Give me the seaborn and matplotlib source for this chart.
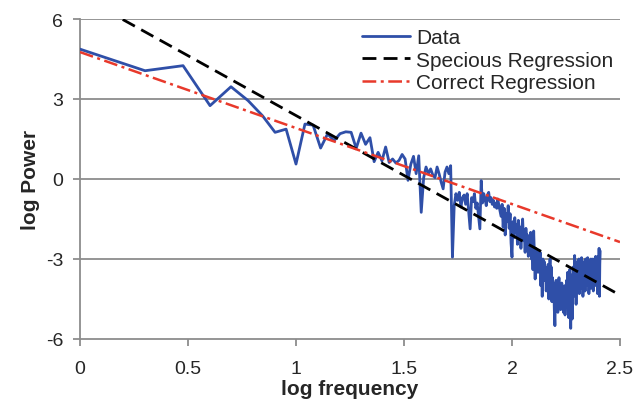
import numpy as np
import pandas as pd
import matplotlib
matplotlib.use("Agg")
import matplotlib.pyplot as plt
import seaborn as sns

# ---- data ----
harmonics = np.arange(1, 257)
log_power = [
    4.87, 4.06, 4.25, 2.75, 3.46, 2.94, 2.37, 1.75, 1.87, 0.56,
    2.06, 2.02, 1.16, 1.69, 1.44, 1.70, 1.77, 1.75, 1.15, 1.72,
    1.30, 1.55, 0.65, 1.00, 0.68, 1.20, 0.62, 0.75, 0.60, 0.70,
    0.92, 0.75, -0.05, 0.55, 0.85, 0.20, 0.87, -1.25, 0.05, 0.45,
    0.20, 0.38, 0.15, 0.05, 0.45, 0.19, -0.12, -0.37, 0.26, 0.45,
    0.20, 0.50, -2.93, -1.00, -0.55, -0.80, -0.50, -1.05, -0.70, -0.60,
    -0.95, -0.55, -1.20, -1.87, -0.70, -0.85, -0.55, -1.10, -0.90, -1.40,
    -1.87, -0.06, -0.90, -0.55, -0.75, -1.00, -0.60, -0.50, -0.85, -0.70,
    -0.95, -0.80, -1.05, -0.90, -1.10, -0.75, -1.00, -1.20, -1.40, -0.95,
    -1.80, -1.10, -2.10, -1.30, -1.60, -1.00, -1.85, -1.30, -2.40, -2.93,
    -1.60, -2.20, -1.45, -2.00, -1.70, -2.45, -1.55, -2.10, -1.80, -2.60,
    -1.90, -1.50, -2.30, -2.00, -2.75, -1.85, -2.40, -2.10, -2.90, -2.20,
    -2.60, -2.00, -3.00, -2.40, -3.40, -1.95, -2.80, -3.75, -2.60, -3.10,
    -2.70, -3.50, -2.90, -3.30, -2.75, -4.00, -3.20, -4.40, -3.00, -3.60,
    -3.10, -3.80, -3.30, -4.20, -3.50, -3.90, -3.20, -4.50, -3.60, -3.00,
    -4.10, -3.30, -4.60, -3.70, -4.30, -3.90, -4.90, -5.50, -4.20, -3.80,
    -4.60, -4.00, -5.00, -4.30, -3.70, -4.70, -4.10, -4.90, -4.40, -3.90,
    -4.60, -4.20, -5.00, -4.50, -4.00, -5.10, -4.60, -4.20, -3.80, -4.50,
    -3.50, -4.20, -5.20, -4.00, -3.40, -4.60, -5.60, -4.30, -3.60, -5.25,
    -4.10, -3.30, -4.40, -3.70, -2.87, -4.00, -3.20, -4.70, -3.50, -3.10,
    -4.20, -3.40, -3.90, -3.00, -4.30, -3.60, -3.20, -4.10, -3.50, -2.95,
    -3.80, -3.30, -4.40, -3.60, -3.10, -3.90, -3.40, -4.20, -3.00, -3.70,
    -3.20, -4.00, -3.50, -2.95, -3.80, -3.30, -4.30, -3.60, -3.10, -3.90,
    -3.40, -3.00, -4.10, -3.50, -3.20, -3.80, -3.00, -4.20, -3.40, -3.60,
    -3.10, -3.90, -3.30, -2.90, -4.00, -3.40, -3.70, -3.00, -4.30, -3.50,
    -2.90, -3.80, -2.60, -4.40, -3.20, -2.70,
]
log_freq = np.log10(harmonics)

# regression coefficients (intercept, slope)
specious_coef = [6.87, -4.49]
correct_coef = [4.76, -2.85]
line_x = [0.0, 2.5]

x_ticks = [0, 0.5, 1, 1.5, 2, 2.5]
x_ticklabels = ["0", "0.5", "1", "1.5", "2", "2.5"]
y_ticks = [-6, -3, 0, 3, 6]
y_ticklabels = ["-6", "-3", "0", "3", "6"]

# ---- style ----
sns.set_style("white")
plt.rcParams["font.family"] = ["Liberation Sans", "DejaVu Sans"]

fig = plt.figure(figsize=(6.43, 4.02), dpi=100)
ax = fig.add_axes([80 / 643, 62 / 402, 540 / 643, 320 / 402])

df = pd.DataFrame({"log frequency": log_freq, "log Power": log_power})
sns.lineplot(data=df, x="log frequency", y="log Power", ax=ax,
             color="#2F4FA8", linewidth=2.0, label="Data", zorder=3)

lx = np.array(line_x)
spec_df = pd.DataFrame({"x": lx, "y": specious_coef[0] + specious_coef[1] * lx})
corr_df = pd.DataFrame({"x": lx, "y": correct_coef[0] + correct_coef[1] * lx})

sns.lineplot(data=spec_df, x="x", y="y", ax=ax, color="black",
             linewidth=2.0, label="Specious Regression", zorder=4)
ax.lines[-1].set_dashes([5.0, 2.6])
sns.lineplot(data=corr_df, x="x", y="y", ax=ax, color="#E8392B",
             linewidth=1.8, label="Correct Regression", zorder=4)
ax.lines[-1].set_dashes([5.5, 1.8, 1.2, 1.8])

ax.set_xlim(0, 2.5)
ax.set_ylim(-6, 6)
ax.set_xticks(x_ticks)
ax.set_xticklabels(x_ticklabels)
ax.set_yticks(y_ticks)
ax.set_yticklabels(y_ticklabels)

grid_c = "#8C8C8C"
for yv in y_ticks[1:]:
    ax.axhline(yv, color=grid_c, linewidth=1.3, zorder=1)

for side in ["top", "right"]:
    ax.spines[side].set_visible(False)
for side in ["left", "bottom"]:
    ax.spines[side].set_color(grid_c)
    ax.spines[side].set_linewidth(1.3)

ax.tick_params(axis="both", which="major", direction="out", length=5,
               width=1.3, color=grid_c, labelsize=14, left=True, bottom=True)
ax.tick_params(axis="y", pad=7)
ax.tick_params(axis="x", pad=10)

ax.set_xlabel("log frequency", fontsize=15, fontweight="bold", labelpad=1.5)
ax.set_ylabel("log Power", fontsize=15, fontweight="bold", labelpad=4)

leg = ax.legend(loc="upper left", bbox_to_anchor=(362 / 643, 1 - 29 / 402),
                bbox_transform=fig.transFigure, frameon=False,
                fontsize=15, handlelength=2.3, handletextpad=0.3,
                labelspacing=0.17, borderaxespad=0.0, borderpad=0.0)

fig.savefig("out.png", dpi=100)
